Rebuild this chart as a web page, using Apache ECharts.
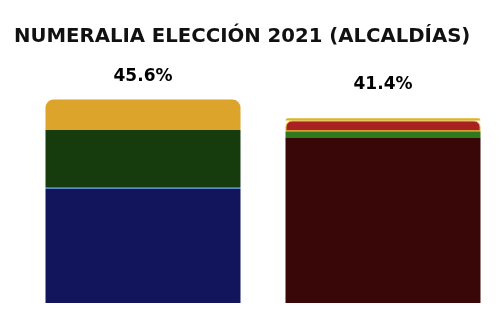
<!DOCTYPE html>
<html>
<head>
<meta charset="utf-8">
<script src="https://cdn.jsdelivr.net/npm/echarts@6/dist/echarts.min.js"></script>
<style>
  html, body { margin: 0; padding: 0; background: #fff; }
  #chart { width: 503px; height: 311px; }
</style>
</head>
<body>
<div id="chart"></div>
<script>
  // two coalitions, stacked from bottom to top
  const categories = ['Coalición 1', 'Coalición 2']
  const totals = ['45.6%', '41.4%']
  const level1 = [25.6, 37.0]
  const level2 = [0.4, 1.5]
  const level3 = [12.8, 2.4]
  const level4 = [6.8, 0.5]

  const colors = [
    ['#12155c', '#3a0709'],
    ['#3a74c4', '#2e7a1c'],
    ['#163c0e', '#a82222'],
    ['#dca42a', '#dcb424'],
  ]

  const chart = echarts.init(document.getElementById('chart'))

  function items(values, level) {
    return values.map((v, i) => {
      const item = { value: v, itemStyle: { color: colors[level][i] } }
      if (level === 3) {
        item.itemStyle.borderRadius = [8, 8, 0, 0]
        item.label = { distance: i === 0 ? 15 : 25 }
      }
      if (level === 2 && i === 1) {
        // thin yellow line on top cannot hold the radius, so round the red one too
        item.itemStyle.borderRadius = [6, 6, 0, 0]
        item.itemStyle.borderColor = '#dcb424'
        item.itemStyle.borderWidth = 1
      }
      return item
    })
  }

  const levels = [level1, level2, level3, level4]

  chart.setOption({
    animation: false,
    backgroundColor: '#fff',
    title: {
      text: 'NUMERALIA ELECCIÓN 2021 (ALCALDÍAS)',
      left: 9,
      top: 22,
      textStyle: {
        fontFamily: 'DejaVu Sans',
        fontWeight: 'bold',
        fontSize: 19.7,
        color: '#111',
      },
    },
    grid: { top: 80, bottom: 8, left: 23, right: 0 },
    xAxis: {
      type: 'category',
      data: categories,
      show: false,
    },
    yAxis: {
      type: 'value',
      min: 0,
      max: 50,
      show: false,
    },
    series: levels.map((vals, level) => ({
      type: 'bar',
      stack: 'total',
      barWidth: 195,
      data: items(vals, level),
      label: level === 3 ? {
        show: true,
        position: 'top',
        formatter: (p) => totals[p.dataIndex],
        fontFamily: 'DejaVu Sans',
        fontWeight: 'bold',
        fontSize: 17,
        color: '#000',
      } : { show: false },
    })),
  })
</script>
</body>
</html>
